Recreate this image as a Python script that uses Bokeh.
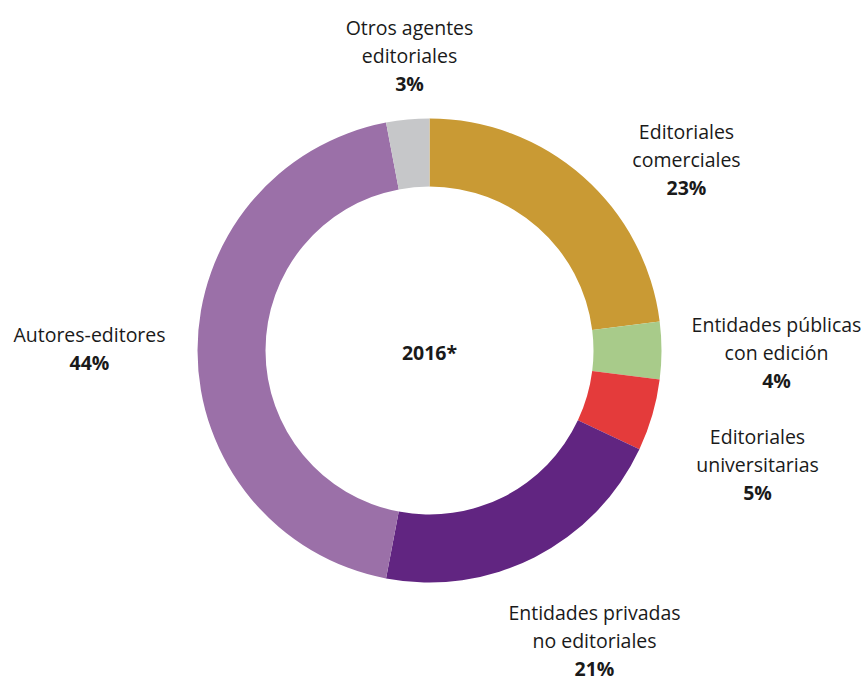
import math
from bokeh.plotting import figure
from bokeh.models import Range1d
from bokeh.core.properties import value
from bokeh.embed import file_html
from bokeh.resources import INLINE

categories = ["Editoriales comerciales", "Entidades públicas con edición",
              "Editoriales universitarias", "Entidades privadas no editoriales",
              "Autores-editores", "Otros agentes editoriales"]
shares = [23, 4, 5, 21, 44, 3]
colors = ["#C99A34", "#A8CB8A", "#E43B3B", "#612581", "#9B70A8", "#C6C7C9"]
label_lines = [["Editoriales", "comerciales"],
               ["Entidades públicas", "con edición"],
               ["Editoriales", "universitarias"],
               ["Entidades privadas", "no editoriales"],
               ["Autores-editores"],
               ["Otros agentes", "editoriales"]]
center_label = "2016*"

# layout (image pixel coords): label centre x, first line y
label_pos = [(686, 131), (776, 324), (757, 436), (594, 612), (89, 334), (409, 27)]
LINE_H = 28
H = 681

W_FIG, H_FIG = 867, 681
p = figure(width=W_FIG, height=H_FIG, output_backend="svg", toolbar_location=None,
           x_range=Range1d(0, W_FIG), y_range=Range1d(0, H_FIG),
           min_border=0)
p.axis.visible = False
p.grid.visible = False
p.outline_line_color = None
p.background_fill_color = "white"
p.border_fill_color = "white"

cx, cy = 429, H - 350
total = sum(shares)
cum = 0
starts, ends = [], []
for s in shares:
    starts.append(math.pi / 2 - 2 * math.pi * cum / total)
    cum += s
    ends.append(math.pi / 2 - 2 * math.pi * cum / total)

p.annular_wedge(x=[cx] * len(shares), y=[cy] * len(shares), inner_radius=164, outer_radius=232,
                start_angle=starts, end_angle=ends, direction="clock",
                fill_color=colors, line_color=None)

font = value("Open Sans")
for lines, s, (lx, ly) in zip(label_lines, shares, label_pos):
    ys = [H - (ly + i * LINE_H) for i in range(len(lines))]
    p.text(x=[lx] * len(lines), y=ys, text=lines, text_align="center", text_baseline="middle",
           text_font=font, text_font_size="19.5px", text_color="#1a1a1a")
    p.text(x=[lx], y=[H - (ly + len(lines) * LINE_H)], text=[f"{s}%"], text_align="center",
           text_baseline="middle", text_font=font, text_font_size="19.5px",
           text_font_style="bold", text_color="#1a1a1a")

p.text(x=[cx], y=[H - 352], text=[center_label], text_align="center", text_baseline="middle",
       text_font=font, text_font_size="19.5px", text_font_style="bold", text_color="#1a1a1a")

open("out.html", "w").write(file_html(p, INLINE))
